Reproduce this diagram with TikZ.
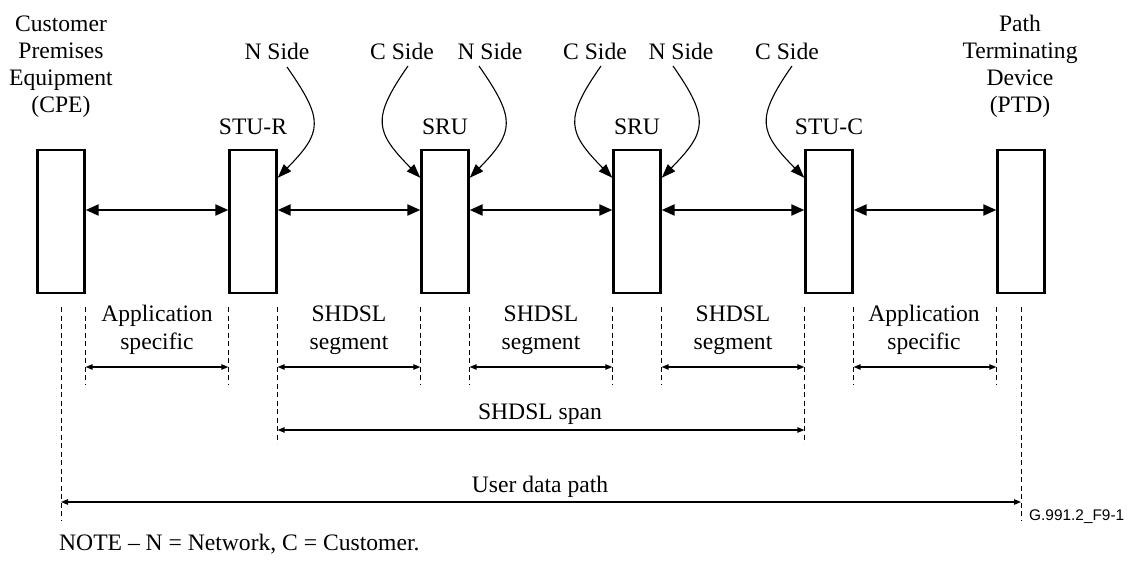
\documentclass[tikz,border=0pt]{standalone}
\usepackage{fontspec}
\setmainfont{Liberation Serif}
\newfontfamily\figsans{Liberation Sans}
\usetikzlibrary{arrows.meta}
\begin{document}
\begin{tikzpicture}[x=1pt,y=-1pt,
  txt/.style={font=\fontsize{23.6}{27.2}\selectfont, inner sep=0pt, align=center, anchor=base},
  unit/.style={draw, line width=2.4pt, minimum width=47pt, minimum height=143pt, inner sep=0pt},
  link/.style={line width=2.2pt, {Triangle[length=13pt,width=11pt]}-{Triangle[length=13pt,width=11pt]}},
  sidearrow/.style={line width=1.1pt, -{Triangle[length=14pt,width=10pt]}},
  dim/.style={line width=1.1pt, {Triangle[length=7pt,width=5.5pt]}-{Triangle[length=7pt,width=5.5pt]}},
  guide/.style={line width=1pt, dash pattern=on 5pt off 3.5pt}
]
\useasboundingbox (0,0) rectangle (1132,569);

% equipment boxes along the loop
\node[unit] (cpe)  at (61,221.5)   {};
\node[unit] (stur) at (253,221.5)  {};
\node[unit] (sru1) at (445,221.5)  {};
\node[unit] (sru2) at (637,221.5)  {};
\node[unit] (stuc) at (829,221.5)  {};
\node[unit] (ptd)  at (1021,221.5) {};

% box titles (multi-line nodes sit on the baseline of their last line)
\node[txt] (cpelbl)  at (61,113)   {Customer\\Premises\\Equipment\\(CPE)};
\node[txt] (ptdlbl)  at (1020,113) {Path\\Terminating\\Device\\(PTD)};
\node[txt] (sturlbl) at (253,135) {STU-R};
\node[txt] (sru1lbl) at (445,135) {SRU};
\node[txt] (sru2lbl) at (637,135) {SRU};
\node[txt] (stuclbl) at (829,135) {STU-C};

% network / customer side labels
\node[txt] (ns1) at (277,60) {N Side};
\node[txt] (cs1) at (402,60) {C Side};
\node[txt] (ns2) at (490,60) {N Side};
\node[txt] (cs2) at (595,60) {C Side};
\node[txt] (ns3) at (681,60) {N Side};
\node[txt] (cs3) at (787,60) {C Side};

\draw[sidearrow] ([xshift=10pt,yshift=-7pt]ns1.base) .. controls +(37,53) and +(45,-46) .. ([yshift=-29pt]stur.north east);
\draw[sidearrow] ([xshift=6pt,yshift=-6pt]cs1.base) .. controls +(-37,53) and +(-45,-46) .. ([yshift=-29pt]sru1.north west);
\draw[sidearrow] ([xshift=-11pt,yshift=-6pt]ns2.base) .. controls +(37,53) and +(45,-46) .. ([yshift=-29pt]sru1.north east);
\draw[sidearrow] ([xshift=6pt,yshift=-6pt]cs2.base) .. controls +(-37,53) and +(-45,-46) .. ([yshift=-29pt]sru2.north west);
\draw[sidearrow] ([xshift=-8pt,yshift=-6pt]ns3.base) .. controls +(37,53) and +(45,-46) .. ([yshift=-29pt]sru2.north east);
\draw[sidearrow] ([xshift=5pt,yshift=-6pt]cs3.base) .. controls +(-37,53) and +(-45,-46) .. ([yshift=-29pt]stuc.north west);

% interfaces between the units
\draw[link] ([yshift=11.5pt]cpe.east)  -- ([yshift=11.5pt]stur.west);
\draw[link] ([yshift=11.5pt]stur.east) -- ([yshift=11.5pt]sru1.west);
\draw[link] ([yshift=11.5pt]sru1.east) -- ([yshift=11.5pt]sru2.west);
\draw[link] ([yshift=11.5pt]sru2.east) -- ([yshift=11.5pt]stuc.west);
\draw[link] ([yshift=11.5pt]stuc.east) -- ([yshift=11.5pt]ptd.west);

% levels of the extension lines and dimension lines
\coordinate (gtop)    at (0,307);
\coordinate (gshort)  at (0,384);
\coordinate (gspan)   at (0,443);
\coordinate (glong)   at (0,521);
\coordinate (dimseg)  at (0,367);
\coordinate (dimspan) at (0,430);
\coordinate (dimuser) at (0,502);

\foreach \a in {cpe.east, stur.west, sru1.west, sru1.east, sru2.west, sru2.east, stuc.east, ptd.west}
  \draw[guide] (\a |- gtop) -- (\a |- gshort);
\foreach \a in {stur.east, stuc.west}
  \draw[guide] (\a |- gtop) -- (\a |- gspan);
\foreach \a in {cpe.south, ptd.south}
  \draw[guide] (\a |- gtop) -- (\a |- glong);

\draw[dim] (cpe.east |- dimseg)  -- (stur.west |- dimseg);
\draw[dim] (stur.east |- dimseg) -- (sru1.west |- dimseg);
\draw[dim] (sru1.east |- dimseg) -- (sru2.west |- dimseg);
\draw[dim] (sru2.east |- dimseg) -- (stuc.west |- dimseg);
\draw[dim] (stuc.east |- dimseg) -- (ptd.west |- dimseg);
\draw[dim] (stur.east |- dimspan) -- (stuc.west |- dimspan);
\draw[dim] (cpe.south |- dimuser) -- (ptd.south |- dimuser);

% dimension labels
\node[txt] (as1)  at (157,349) {Application\\specific};
\node[txt] (seg1) at (349,349) {SHDSL\\segment};
\node[txt] (seg2) at (541,349) {SHDSL\\segment};
\node[txt] (seg3) at (733,349) {SHDSL\\segment};
\node[txt] (as2)  at (924,349) {Application\\specific};
\node[txt] (span) at (540,419) {SHDSL span};
\node[txt] (udp)  at (540,492) {User data path};

\node[txt, anchor=base west] (note) at (59,550) {NOTE – N = Network, C = Customer.};
\node[anchor=base west, inner sep=0pt, font=\figsans\fontsize{15.4}{18}\selectfont] (figid) at (1029,520) {G.991.2\_F9-1};
\end{tikzpicture}
\end{document}
